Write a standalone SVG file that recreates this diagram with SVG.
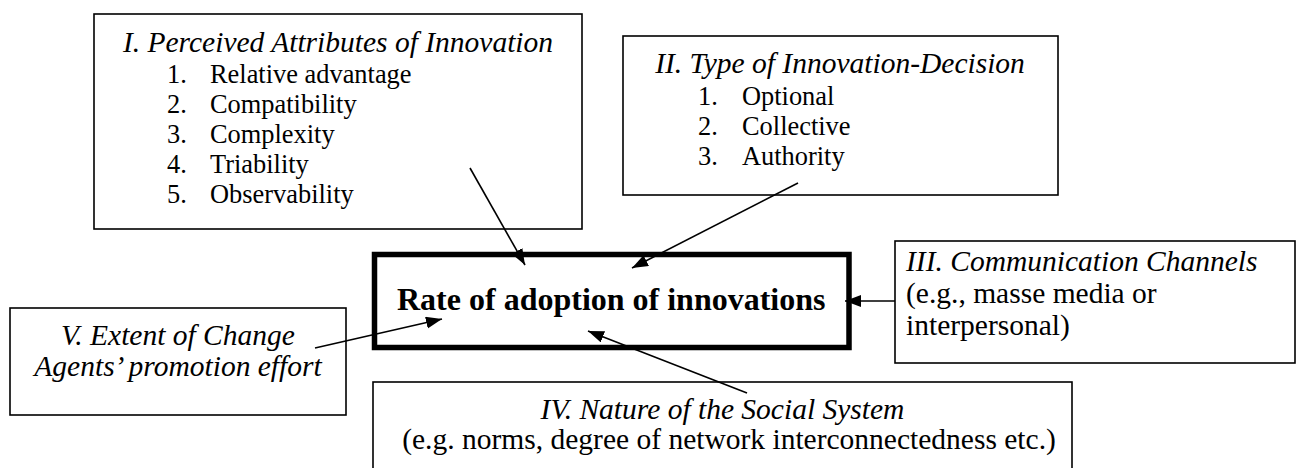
<svg xmlns="http://www.w3.org/2000/svg" width="1298" height="468" viewBox="0 0 1298 468">
<defs>
<style>
.box{fill:#fff;stroke:#000;stroke-width:1.6}
.main{fill:#fff;stroke:#000;stroke-width:5.5}
.t{font-family:"Liberation Serif","Times New Roman",serif;fill:#000}
.it{font-style:italic;font-size:29.5px}
.item{font-size:26.4px}
.reg{font-size:29.5px}
.bold{font-weight:bold;font-size:32px}
.c{text-anchor:middle}
.conn{stroke:#000;stroke-width:1.6;fill:none;marker-end:url(#ah)}
</style>
<marker id="ah" markerUnits="userSpaceOnUse" markerWidth="18" markerHeight="14" refX="16" refY="6" orient="auto">
<path d="M0,0 L16,6 L0,12 z" fill="#000"/>
</marker>
</defs>
<rect width="1298" height="468" fill="#fff"/>
<g id="node-I">
<rect class="box" x="94" y="14" width="488" height="215"/>
<text class="t it c" x="338" y="52">I. Perceived Attributes of Innovation</text>
<text class="t item" x="167" y="83">1.</text><text class="t item" x="210" y="83">Relative advantage</text>
<text class="t item" x="167" y="113">2.</text><text class="t item" x="210" y="113">Compatibility</text>
<text class="t item" x="167" y="143">3.</text><text class="t item" x="210" y="143">Complexity</text>
<text class="t item" x="167" y="173">4.</text><text class="t item" x="210" y="173">Triability</text>
<text class="t item" x="167" y="203">5.</text><text class="t item" x="210" y="203">Observability</text>
</g>
<g id="node-II">
<rect class="box" x="623" y="36" width="435" height="159"/>
<text class="t it c" x="840" y="73">II. Type of Innovation-Decision</text>
<text class="t item" x="698" y="105">1.</text><text class="t item" x="742" y="105">Optional</text>
<text class="t item" x="698" y="135">2.</text><text class="t item" x="742" y="135">Collective</text>
<text class="t item" x="698" y="165">3.</text><text class="t item" x="742" y="165">Authority</text>
</g>
<g id="node-III">
<rect class="box" x="895" y="241" width="400" height="122"/>
<text class="t it" x="906" y="271">III. Communication Channels</text>
<text class="t reg" x="906" y="303">(e.g., masse media or</text>
<text class="t reg" x="906" y="335">interpersonal)</text>
</g>
<g id="node-IV">
<rect class="box" x="373" y="382" width="699" height="100"/>
<text class="t it c" x="722.5" y="419">IV. Nature of the Social System</text>
<text class="t reg c" x="729" y="449">(e.g. norms, degree of network interconnectedness etc.)</text>
</g>
<g id="node-V">
<rect class="box" x="10" y="308" width="336" height="107"/>
<text class="t it c" x="178" y="345">V. Extent of Change</text>
<text class="t it c" x="178" y="376">Agents’ promotion effort</text>
</g>
<g id="node-center">
<rect class="main" x="374.5" y="254.5" width="474.5" height="93"/>
<text class="t bold" x="397" y="310">Rate of adoption of innovations</text>
</g>
<g id="connectors">
<line class="conn" x1="470" y1="168" x2="525" y2="265"/>
<line class="conn" x1="798" y1="183" x2="632" y2="268"/>
<line class="conn" x1="895" y1="301" x2="845" y2="301"/>
<line class="conn" x1="747" y1="393" x2="588" y2="331"/>
<line class="conn" x1="315" y1="348" x2="442" y2="319"/>
</g>
</svg>
